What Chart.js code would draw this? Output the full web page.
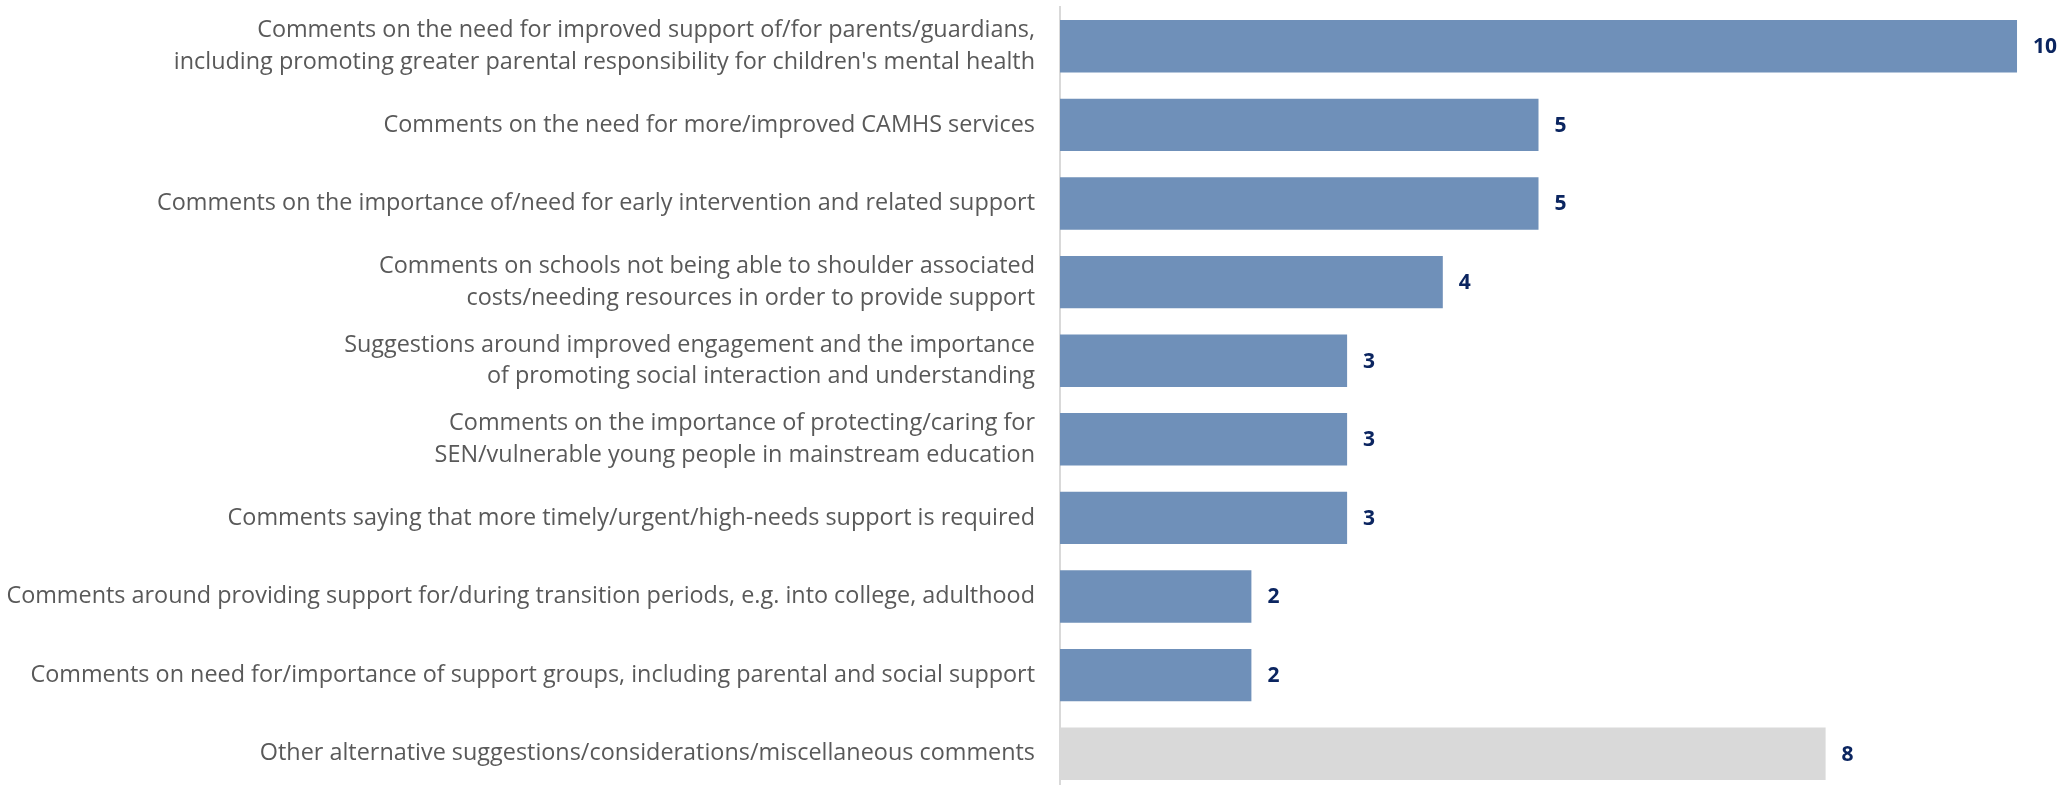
<!DOCTYPE html>
<html>
<head>
<meta charset="utf-8">
<script src="https://cdn.jsdelivr.net/npm/chart.js@4.4.1/dist/chart.umd.min.js"></script>
<style>
  html, body { margin: 0; padding: 0; background: #ffffff; overflow: hidden; }
  #wrap { width: 2062px; height: 785px; overflow: hidden; position: relative; }
  canvas { display: block; }
</style>
</head>
<body>
<div id="wrap"><canvas id="chart" width="2062" height="793"></canvas></div>
<script>
// Comment themes (multi-line entries wrap onto two lines)
const categories = [
  ["Comments on the need for improved support of/for parents/guardians,",
   "including promoting greater parental responsibility for children's mental health"],
  "Comments on the need for more/improved CAMHS services",
  "Comments on the importance of/need for early intervention and related support",
  ["Comments on schools not being able to shoulder associated",
   "costs/needing resources in order to provide support"],
  ["Suggestions around improved engagement and the importance",
   "of promoting social interaction and understanding"],
  ["Comments on the importance of protecting/caring for",
   "SEN/vulnerable young people in mainstream education"],
  "Comments saying that more timely/urgent/high-needs support is required",
  "Comments around providing support for/during transition periods, e.g. into college, adulthood",
  "Comments on need for/importance of support groups, including parental and social support",
  "Other alternative suggestions/considerations/miscellaneous comments"
];

// Number of comments per theme
const counts = [10, 5, 5, 4, 3, 3, 3, 2, 2, 8];

const FONT = "'Open Sans', 'Noto Sans', 'Liberation Sans', sans-serif";
const BAR_BLUE = '#6f90b9';
const BAR_GREY = '#d9d9d9';

function isOther(label) {
  const text = Array.isArray(label) ? label[0] : label;
  return text.startsWith('Other');
}

// Writes each bar's count just past its end
const valueLabels = {
  id: 'valueLabels',
  afterDatasetsDraw(chart) {
    const ctx = chart.ctx;
    const meta = chart.getDatasetMeta(0);
    const data = chart.data.datasets[0].data;
    ctx.save();
    ctx.font = `bold 21px ${FONT}`;
    ctx.fillStyle = '#0b2560';
    ctx.textAlign = 'left';
    ctx.textBaseline = 'middle';
    meta.data.forEach((bar, i) => {
      ctx.fillText(String(data[i]), bar.x + 16, bar.y + 1);
    });
    ctx.restore();
  }
};

new Chart(document.getElementById('chart'), {
  type: 'bar',
  data: {
    labels: categories,
    datasets: [{
      data: counts,
      backgroundColor: categories.map(c => isOther(c) ? BAR_GREY : BAR_BLUE),
      borderWidth: 0,
      barPercentage: 0.667,
      categoryPercentage: 1
    }]
  },
  options: {
    indexAxis: 'y',
    responsive: false,
    animation: false,
    devicePixelRatio: 1,
    layout: { padding: { top: 7, right: 0, bottom: 0, left: 0 } },
    plugins: {
      legend: { display: false },
      tooltip: { enabled: false }
    },
    scales: {
      x: {
        display: false,
        min: 0,
        max: 10.47
      },
      y: {
        afterFit(scale) {
          // fixed label column; bands fill the full plot height
          scale.width = 1060;
          scale.paddingTop = 0;
          scale.paddingBottom = 0;
        },
        grid: { display: false, drawTicks: false },
        border: { display: true, color: '#d9d9d9', width: 2 },
        ticks: {
          autoSkip: false,
          padding: 25,
          color: '#595959',
          font: { family: FONT, size: 23.4, lineHeight: '31.5px' }
        }
      }
    }
  },
  plugins: [valueLabels]
});
</script>
</body>
</html>
